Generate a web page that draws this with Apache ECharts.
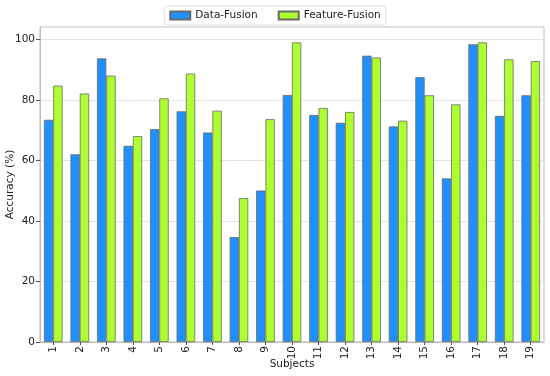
<!DOCTYPE html>
<html>
<head>
<meta charset="utf-8">
<script src="https://cdn.jsdelivr.net/npm/echarts@6/dist/echarts.min.js"></script>
<style>html,body{margin:0;padding:0;background:#fff}#c{width:550px;height:376px}</style>
</head>
<body>
<div id="c"></div>
<script>
const subjects = ['1','2','3','4','5','6','7','8','9','10','11','12','13','14','15','16','17','18','19'];
const dataFusion = [73.5, 62.1, 93.8, 64.9, 70.4, 76.3, 69.3, 34.7, 50.1, 81.7, 75.1, 72.5, 94.7, 71.3, 87.6, 54.1, 98.5, 74.8, 81.6];
const featureFusion = [84.8, 82.2, 88.1, 68.1, 80.6, 88.8, 76.5, 47.6, 73.7, 99.1, 77.4, 76.1, 94.1, 73.2, 81.6, 78.6, 99.1, 93.5, 92.9];
const yTicks = [0, 20, 40, 60, 80, 100];

const font = 'DejaVu Sans';
const chart = echarts.init(document.getElementById('c'), null, {renderer: 'canvas'});
chart.setOption({
  animation: false,
  textStyle: {fontFamily: font},
  legend: {
    top: 6,
    left: 'center',
    itemWidth: 20,
    itemHeight: 8,
    itemGap: 20,
    padding: [4, 5, 4, 5],
    borderColor: '#ddd',
    borderWidth: 1,
    borderRadius: 3,
    textStyle: {fontFamily: font, fontSize: 10.5, color: '#222'},
    data: [{name: 'Data-Fusion', icon: 'rect'}, {name: 'Feature-Fusion', icon: 'rect'}]
  },
  grid: {
    left: 40, right: 6, top: 27, bottom: 34,
    containLabel: false, outerBoundsMode: 'none',
    show: true, borderColor: '#bbb', borderWidth: 1, backgroundColor: '#fff'
  },
  xAxis: {
    type: 'category',
    data: subjects,
    name: 'Subjects',
    nameLocation: 'middle',
    nameGap: 17,
    nameMoveOverlap: false,
    nameTextStyle: {fontFamily: font, fontSize: 10.5, color: '#222'},
    axisLine: {lineStyle: {color: '#bbb'}},
    axisTick: {show: true, alignWithLabel: true, length: 3, lineStyle: {color: '#555'}},
    axisLabel: {rotate: 90, margin: 4, fontFamily: font, fontSize: 10.5, color: '#222'},
    splitLine: {show: false}
  },
  yAxis: {
    type: 'value',
    min: 0, max: 104.2, interval: 20,
    name: 'Accuracy (%)',
    nameLocation: 'middle',
    nameGap: 24,
    nameMoveOverlap: false,
    nameTextStyle: {fontFamily: font, fontSize: 10.5, color: '#222'},
    axisLine: {show: true, lineStyle: {color: '#bbb'}},
    axisTick: {show: true, length: 4, lineStyle: {color: '#555'}},
    axisLabel: {
      margin: 5, fontFamily: font, fontSize: 10.5, color: '#222', showMaxLabel: false,
      formatter: v => (yTicks.indexOf(v) >= 0 ? String(v) : '')
    },
    splitLine: {show: true, lineStyle: {color: '#e3e3e3', width: 1}}
  },
  series: [
    {
      name: 'Data-Fusion', type: 'bar', data: dataFusion,
      barWidth: 9.3, barGap: '0%',
      itemStyle: {color: '#1E90FF', borderColor: '#6a6a6a', borderWidth: 0.8}
    },
    {
      name: 'Feature-Fusion', type: 'bar', data: featureFusion,
      barWidth: 9.3, barGap: '0%',
      itemStyle: {color: '#ADFF2F', borderColor: '#6a6a6a', borderWidth: 0.8}
    }
  ]
});
</script>
</body>
</html>
